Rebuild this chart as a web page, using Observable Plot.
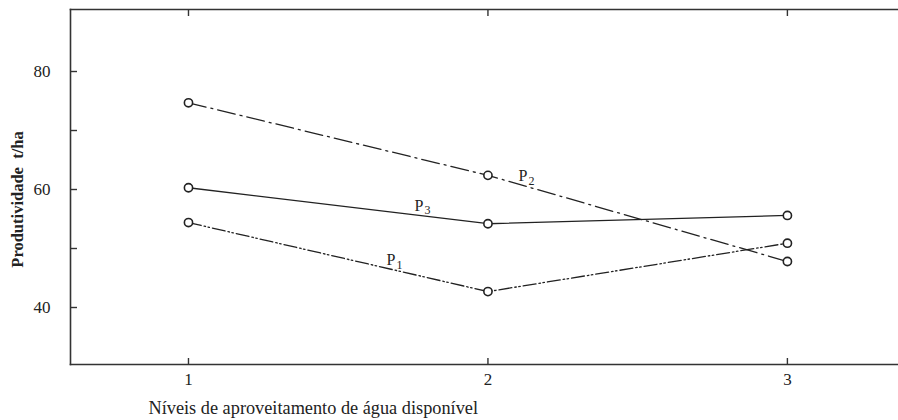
<!DOCTYPE html>
<html>
<head>
<meta charset="utf-8">
<script src="https://cdn.jsdelivr.net/npm/d3@7"></script>
<script src="https://cdn.jsdelivr.net/npm/@observablehq/plot@0.6"></script>
<style>
  html, body { margin: 0; padding: 0; background: #fff; }
  #chart svg { display: block; }
  #chart svg, #chart svg text { font-family: "Liberation Serif", "Times New Roman", serif !important; }
</style>
</head>
<body>
<div id="chart"></div>
<script>
// ---- data ----
const levels = [1, 2, 3];
const seriesNames = ["P1", "P2", "P3"];
const p1 = [54.4, 42.7, 50.9];
const p2 = [74.7, 62.4, 47.8];
const p3 = [60.3, 54.2, 55.6];
const xTicks = [1, 2, 3];
const yTicksAll = [40, 50, 60, 70, 80];
const yTickLabels = [40, 60, 80];
const xLabel = "Níveis de aproveitamento de água disponível";
const yLabel = "Produtividade  t/ha";
// series label annotations (data coordinates)
const labelMain = ["P", "P", "P"];
const labelSub = ["1", "2", "3"];
const labelX = [1.661, 2.102, 1.755];
const labelY = [48.1, 62.3, 57.3];

const values = {P1: p1, P2: p2, P3: p3};
const rows = seriesNames.flatMap(s => levels.map((l, i) => ({series: s, level: l, value: values[s][i]})));
const labels = labelMain.map((m, i) => ({main: m, sub: labelSub[i], x: labelX[i], y: labelY[i]}));

const ink = "#222";
const dash = {P1: "13,3,1.5,2.5,1.5,3", P2: "18,5,2,5", P3: null};

const chart = Plot.plot({
  width: 898,
  height: 420,
  marginLeft: 70,
  marginRight: 0,
  marginTop: 9,
  marginBottom: 56,
  style: {color: ink, background: "#fff"},
  x: {domain: [0.606, 3.371]},
  y: {domain: [30.34, 90.51]},
  marks: [
    Plot.frame({anchor: "left", stroke: "#333", strokeWidth: 1.6}),
    Plot.frame({anchor: "top", stroke: "#333", strokeWidth: 1.6}),
    Plot.frame({anchor: "bottom", stroke: "#333", strokeWidth: 1.6}),
    Plot.axisY({ticks: yTicksAll, tickSize: -7, text: null, stroke: "#333", strokeWidth: 1.4}),
    Plot.axisY({ticks: yTickLabels, tickSize: 0, tickPadding: 20, fontSize: 17, label: null, tickFormat: d => String(d)}),
    Plot.axisX({anchor: "top", ticks: xTicks, tickSize: -6, text: null, stroke: "#333", strokeWidth: 1.4, label: null}),
    Plot.axisX({anchor: "bottom", ticks: xTicks, tickSize: -6, text: null, stroke: "#333", strokeWidth: 1.4, label: null}),
    Plot.axisX({anchor: "bottom", ticks: xTicks, tickSize: 0, tickPadding: 8, fontSize: 17, label: null, tickFormat: d => String(d)}),
    ...seriesNames.map(s => Plot.line(rows.filter(d => d.series === s), {
      x: "level", y: "value", stroke: ink, strokeWidth: 1.3,
      strokeDasharray: dash[s] || undefined
    })),
    Plot.dot(rows, {x: "level", y: "value", r: 4.1, stroke: ink, strokeWidth: 1.6, fill: "white"}),
    Plot.text(labels, {x: "x", y: "y", text: "main", textAnchor: "start", lineAnchor: "middle", fontSize: 16, fill: ink}),
    Plot.text(labels, {x: "x", y: "y", text: "sub", textAnchor: "start", lineAnchor: "middle", fontSize: 12, dx: 10, dy: 5, fill: ink}),
    Plot.text([xLabel], {frameAnchor: "bottom-left", textAnchor: "start", lineAnchor: "middle", dx: 78, dy: 44, fontSize: 18.3, fill: ink, text: d => d}),
    Plot.text([yLabel], {frameAnchor: "left", textAnchor: "middle", lineAnchor: "middle", rotate: -90, dx: -53, dy: 12.5, fontSize: 16.5, fontWeight: "bold", fill: ink, text: d => d})
  ]
});
document.getElementById("chart").appendChild(chart);
</script>
</body>
</html>
